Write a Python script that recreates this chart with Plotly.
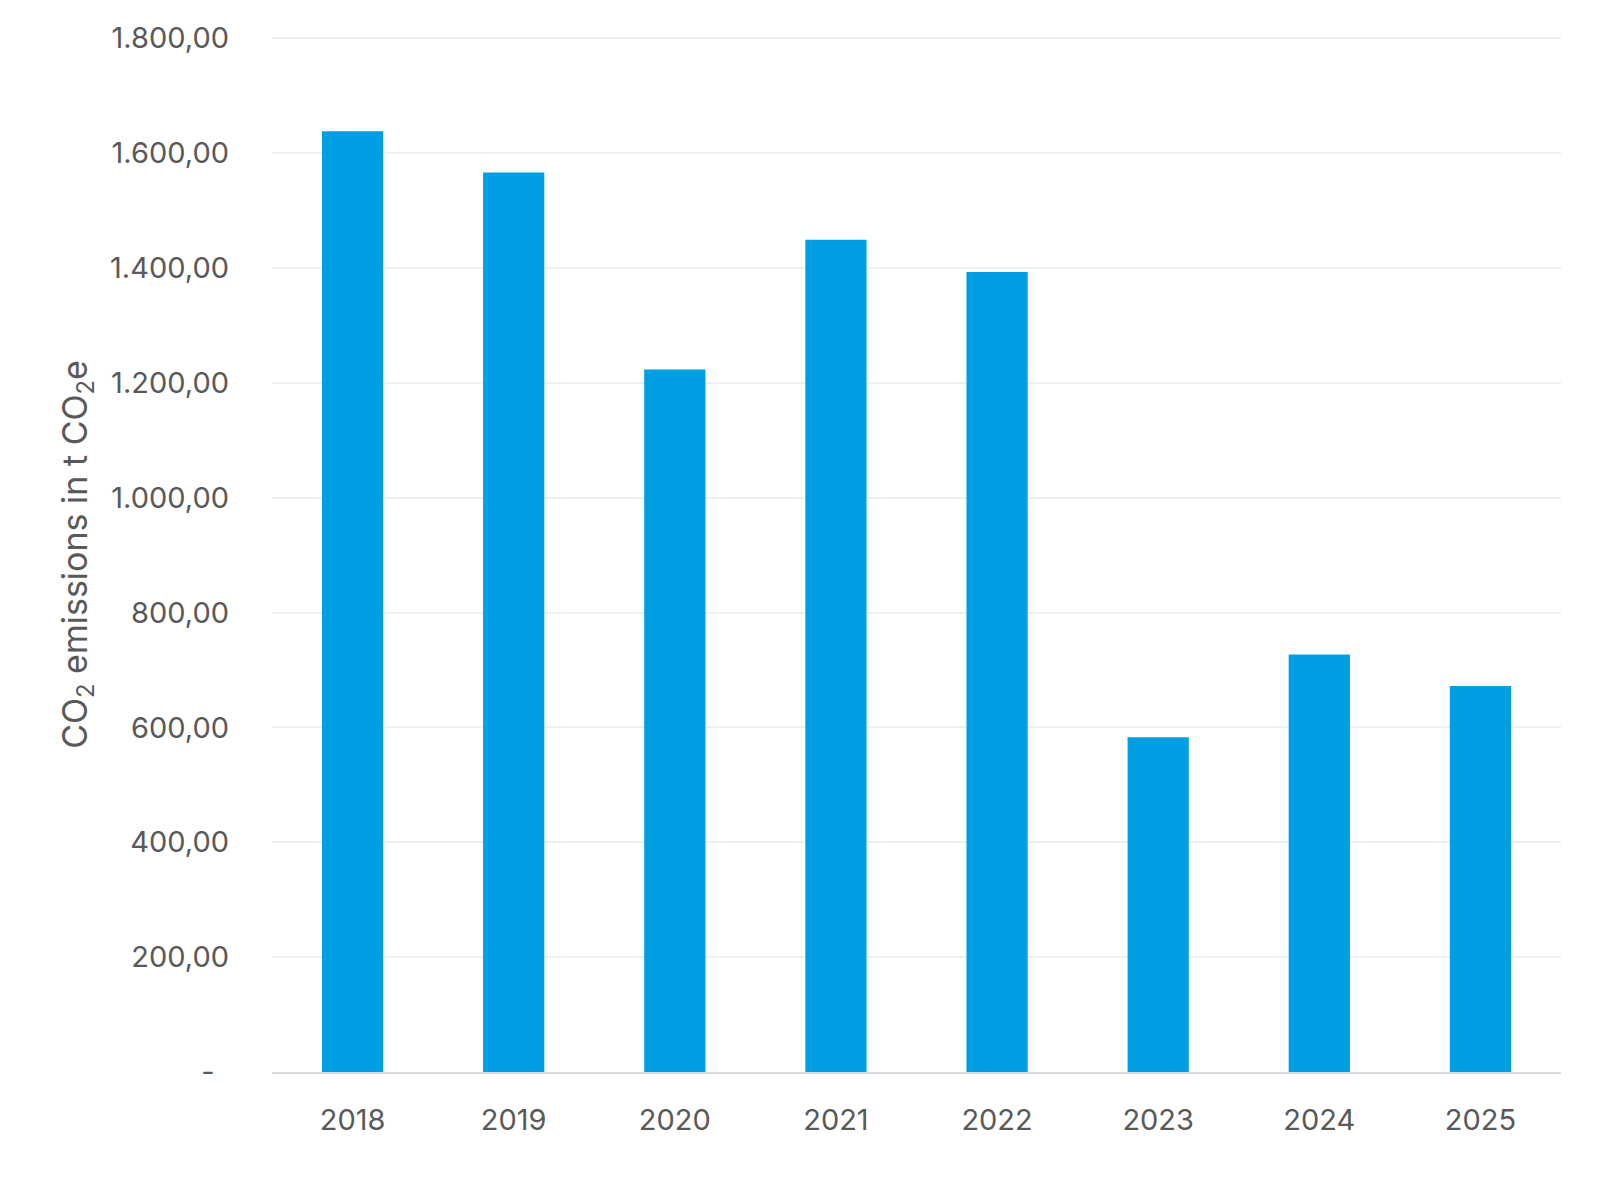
import plotly.graph_objects as go

years = ["2018", "2019", "2020", "2021", "2022", "2023", "2024", "2025"]
emissions = [1638, 1566, 1223, 1449, 1393, 583, 727, 672]
tick_vals = [0, 200, 400, 600, 800, 1000, 1200, 1400, 1600, 1800]
tick_text = ["-\u2002", "200,00", "400,00", "600,00", "800,00", "1.000,00",
             "1.200,00", "1.400,00", "1.600,00", "1.800,00"]
y_title = "CO<sub>2</sub> emissions in t CO<sub>2</sub>e"

fig = go.Figure(go.Bar(
    x=years, y=emissions,
    marker=dict(color="#009FE3", line=dict(width=0)),
    width=0.38,
))

fig.update_layout(
    width=1600, height=1202,
    margin=dict(l=272, r=39, t=37, b=130, autoexpand=False),
    paper_bgcolor="white", plot_bgcolor="white",
    font=dict(family="Inter, Roboto, sans-serif", size=29, color="#595959"),
    showlegend=False,
)
fig.update_xaxes(
    type="category",
    showgrid=False,
    showline=True, linecolor="#d9d9d9", linewidth=2,
    ticks="", ticklabelstandoff=21,
    tickfont=dict(size=29, color="#595959"),
)
fig.update_yaxes(
    range=[0, 1802],
    tickvals=tick_vals, ticktext=tick_text,
    showgrid=True, gridcolor="#efefef", gridwidth=2,
    zeroline=False, showline=False,
    ticks="", ticklabelstandoff=42,
    tickfont=dict(size=29, color="#595959"),
    title=dict(text=y_title, standoff=12, font=dict(size=34, color="#595959")),
    automargin=False,
)

fig.write_html("out.html")
